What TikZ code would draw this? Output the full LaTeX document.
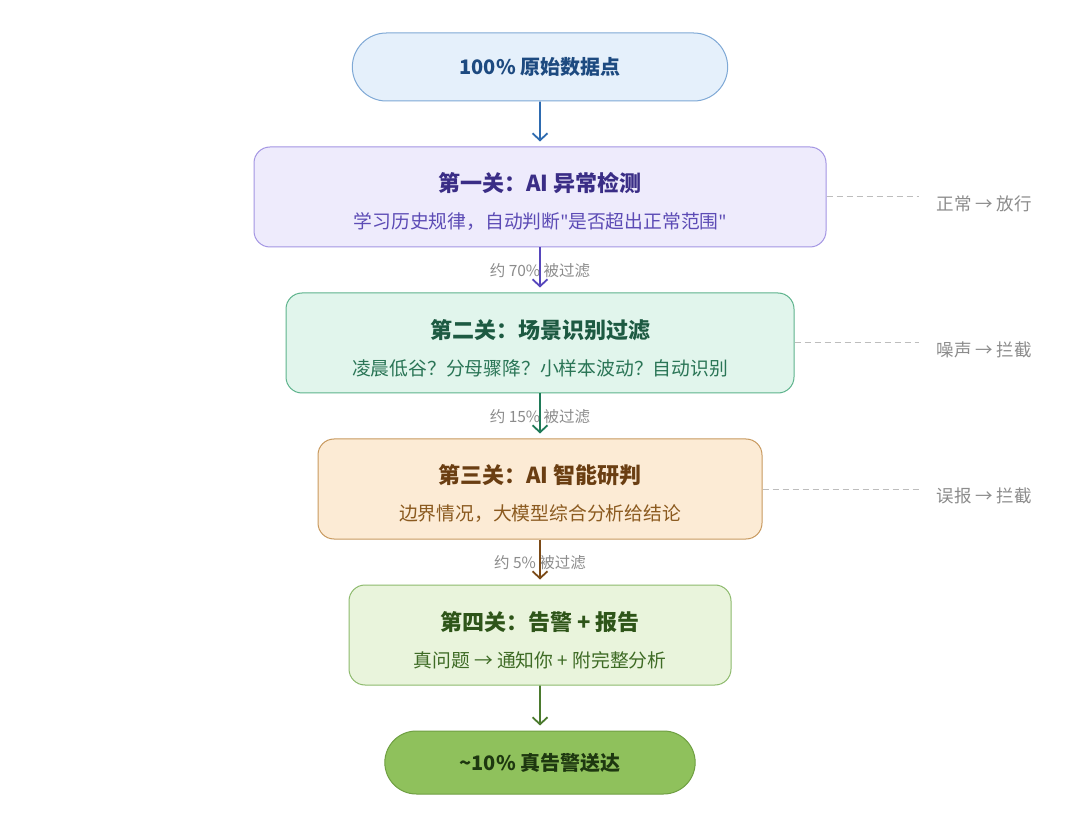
\documentclass[tikz,border=0pt]{standalone}
\usepackage{fontspec}
\setmainfont{Noto Sans CJK SC}
\newfontfamily\latinfont{Noto Sans}
\usepackage{tikz}
\usetikzlibrary{positioning, arrows.meta, shapes.misc}
\definecolor{topfill}{HTML}{E5F0FB}
\definecolor{topline}{HTML}{7FA9D6}
\definecolor{toptext}{HTML}{1D4A80}
\definecolor{toparrow}{HTML}{2E6BB0}
\definecolor{onefill}{HTML}{EEEBFC}
\definecolor{oneline}{HTML}{A395E3}
\definecolor{onetitle}{HTML}{3A2D86}
\definecolor{onesub}{HTML}{5C4BB5}
\definecolor{onearrow}{HTML}{5646BC}
\definecolor{twofill}{HTML}{E1F5EC}
\definecolor{twoline}{HTML}{5DB38C}
\definecolor{twotitle}{HTML}{1D5A42}
\definecolor{twosub}{HTML}{2A7556}
\definecolor{twoarrow}{HTML}{1F7A58}
\definecolor{threefill}{HTML}{FCEBD5}
\definecolor{threeline}{HTML}{C8995E}
\definecolor{threetitle}{HTML}{6A3E12}
\definecolor{threesub}{HTML}{8B5A1F}
\definecolor{threearrow}{HTML}{7B4A17}
\definecolor{fourfill}{HTML}{E9F4DC}
\definecolor{fourline}{HTML}{8DBA6D}
\definecolor{fourtitle}{HTML}{2E5519}
\definecolor{foursub}{HTML}{3E6B25}
\definecolor{fourarrow}{HTML}{4B7A2E}
\definecolor{endfill}{HTML}{8FC15C}
\definecolor{endline}{HTML}{6F9F42}
\definecolor{endtext}{HTML}{1E3810}
\definecolor{grey}{HTML}{8C8C8C}
\definecolor{railgrey}{HTML}{BDBDBD}
\newcommand{\gate}[3]{{\color{#1}\bfseries\fontsize{22}{37}\selectfont\rule{0pt}{29pt}#2}\\#3}
\newcommand{\qt}{{\latinfont"}}

\begin{document}
\begin{tikzpicture}[x=1pt, y=-1pt, node distance=45pt,
    endcap/.style={rounded rectangle, draw, line width=1pt, minimum height=#1,
      font=\bfseries\fontsize{20}{24}\selectfont},
    gatebox/.style={draw, rounded corners=16pt, line width=1pt, minimum height=100pt,
      align=center, font=\fontsize{18.8}{37}\selectfont},
    flow/.style={line width=1.8pt, -{Straight Barb[length=7pt, width=15pt]}, shorten >=5pt},
    cut/.style={text=grey, font=\fontsize{15.5}{18}\selectfont},
    side/.style={text=grey, font=\fontsize{17.5}{20}\selectfont, anchor=west, yshift=-7pt},
    rail/.style={draw=railgrey, line width=1pt, dash pattern=on 6pt off 4pt}]
  \useasboundingbox[fill=white] (0,0) rectangle (1080,826);

  \node[endcap=68pt, fill=topfill, draw=topline, text=toptext, minimum width=382pt]
    (raw) at (540,67) {100\% 原始数据点};
  \node[gatebox, below=of raw, fill=onefill, draw=oneline, text=onesub, minimum width=572pt]
    (detect) {\gate{onetitle}{第一关：AI 异常检测}{学习历史规律，自动判断\qt 是否超出正常范围\qt}};
  \node[gatebox, below=of detect, fill=twofill, draw=twoline, text=twosub, minimum width=508pt]
    (scene) {\gate{twotitle}{第二关：场景识别过滤}{凌晨低谷？分母骤降？小样本波动？自动识别}};
  \node[gatebox, below=of scene, fill=threefill, draw=threeline, text=threesub, minimum width=444pt]
    (judge) {\gate{threetitle}{第三关：AI 智能研判}{边界情况，大模型综合分析给结论}};
  \node[gatebox, below=of judge, fill=fourfill, draw=fourline, text=foursub, minimum width=382pt]
    (alert) {\gate{fourtitle}{第四关：告警 + 报告}{真问题 → 通知你 + 附完整分析}};
  \node[endcap=63pt, below=of alert, fill=endfill, draw=endline, text=endtext, minimum width=317pt]
    (real) {\textasciitilde 10\% 真告警送达};

  % filtered shares, under the arrows
  \path (detect) -- node[cut, pos=0.52] (cut1) {约 70\% 被过滤} (scene);
  \path (scene) -- node[cut, pos=0.52] (cut2) {约 15\% 被过滤} (judge);
  \path (judge) -- node[cut, pos=0.52] (cut3) {约 5\% 被过滤} (alert);

  \draw[flow, toparrow] (raw) -- (detect);
  \draw[flow, onearrow] (detect) -- (scene);
  \draw[flow, twoarrow] (scene) -- (judge);
  \draw[flow, threearrow] (judge) -- (alert);
  \draw[flow, fourarrow] (alert) -- (real);

  % side notes
  \coordinate (railend) at (919,0);
  \coordinate (notes) at (933,0);
  \draw[rail] (detect.east) -- (detect.east -| railend);
  \draw[rail] (scene.east) -- (scene.east -| railend);
  \draw[rail] (judge.east) -- (judge.east -| railend);
  \node[side] (pass) at (detect.east -| notes) {正常 → 放行};
  \node[side] (noise) at (scene.east -| notes) {噪声 → 拦截};
  \node[side] (false) at (judge.east -| notes) {误报 → 拦截};
\end{tikzpicture}
\end{document}
